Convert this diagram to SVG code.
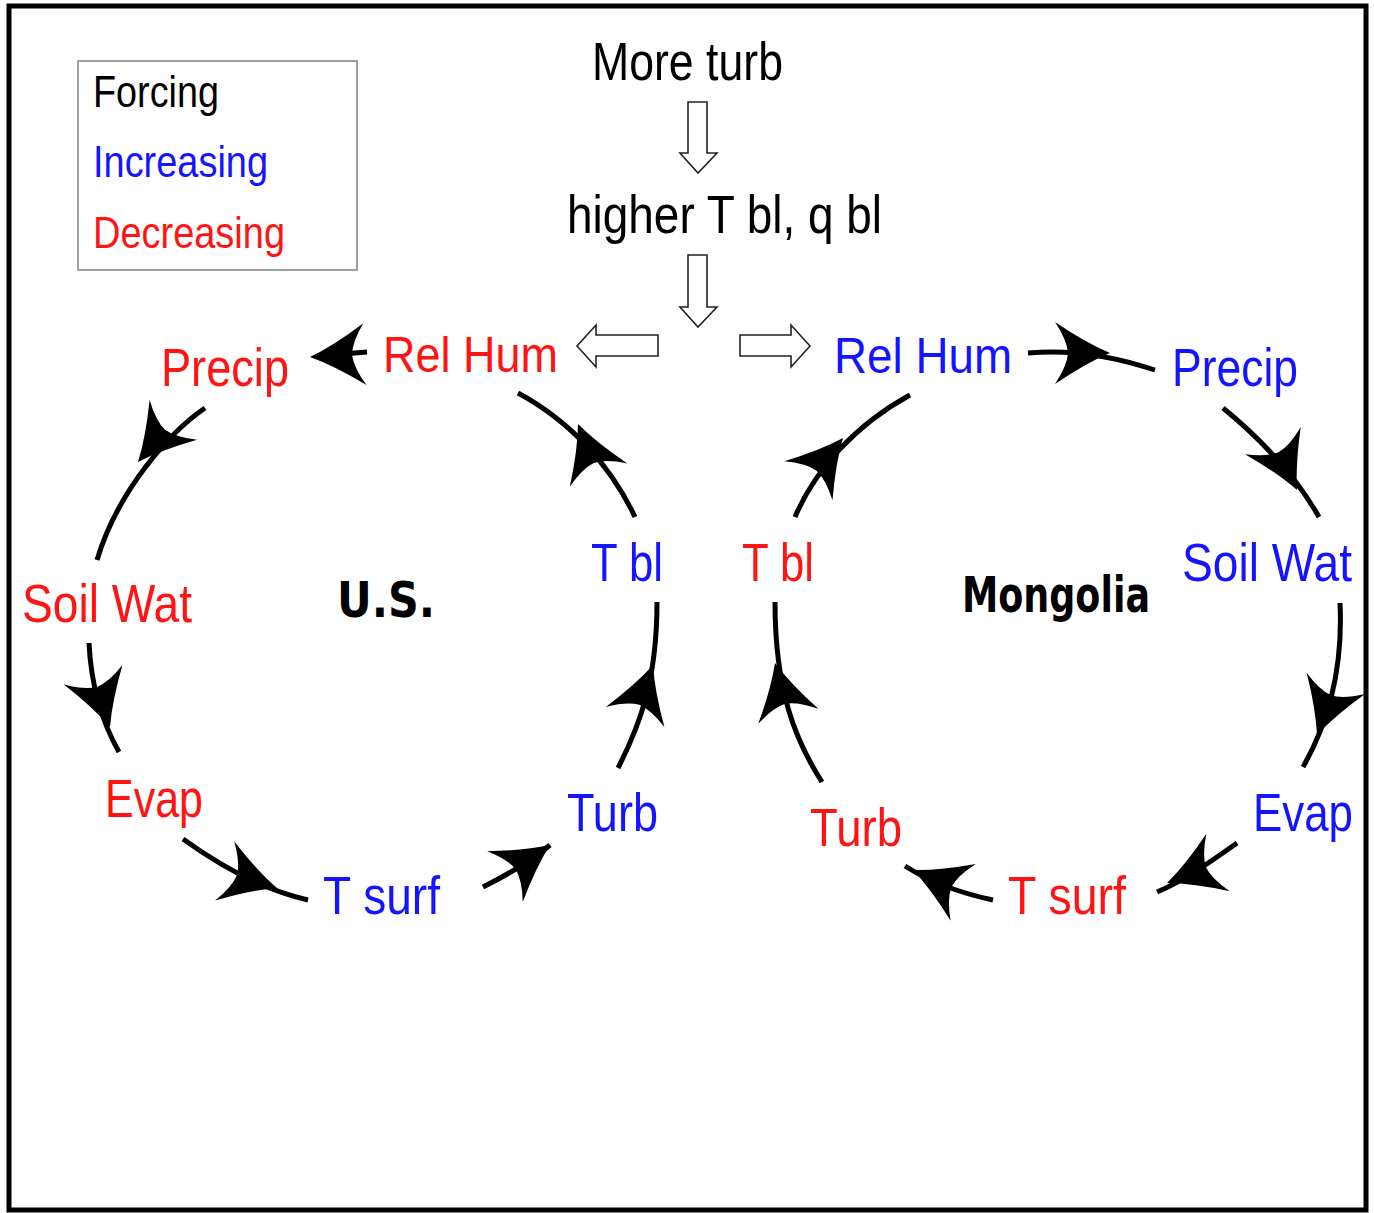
<svg xmlns="http://www.w3.org/2000/svg" xmlns:xlink="http://www.w3.org/1999/xlink" width="1374" height="1213" viewBox="0 0 1374 1213">
<style>
.t{font-family:"Liberation Sans",Arial,sans-serif;}
.b{fill:#1414ff;}
.r{fill:#ff1414;}
.k{fill:#000;}
.c{font-family:"DejaVu Sans",sans-serif;font-weight:bold;fill:#000;}
.ln{fill:none;stroke:#000;stroke-width:5;}
.hol{fill:#fff;stroke:#222;stroke-width:1.6;}
</style>
<defs>
<path id="ah" d="M0,0 Q-24,-10 -55,-31 Q-43,-13 -42,0 Q-43,13 -55,31 Q-24,10 0,0 Z" fill="#000"/>
</defs>
<rect x="0" y="0" width="1374" height="1213" fill="#fff"/>
<rect x="9" y="6" width="1357" height="1204" fill="none" stroke="#000" stroke-width="5"/>

<g id="legend">
<rect x="78" y="61" width="279" height="209" fill="none" stroke="#888" stroke-width="1.6"/>
<text class="t k" x="93" y="107" font-size="44" textLength="126" lengthAdjust="spacingAndGlyphs">Forcing</text>
<text class="t b" x="93" y="177" font-size="44" textLength="175" lengthAdjust="spacingAndGlyphs">Increasing</text>
<text class="t r" x="93" y="248" font-size="44" textLength="192" lengthAdjust="spacingAndGlyphs">Decreasing</text>
</g>

<g id="forcing">
<text class="t k" x="592" y="80" font-size="53" textLength="191" lengthAdjust="spacingAndGlyphs">More turb</text>
<polygon class="hol" points="688,102 707,102 707,153 717,153 698,173 680,153 688,153"/>
<text class="t k" x="567" y="233" font-size="53" textLength="315" lengthAdjust="spacingAndGlyphs">higher T bl, q bl</text>
<polygon class="hol" points="688,255 707,255 707,307 717,307 698,327 680,307 688,307"/>
<polygon class="hol" points="658,335 596,335 596,325 577,346 596,367 596,356 658,356"/>
<polygon class="hol" points="740,335 791,335 791,325 810,346 791,367 791,356 740,356"/>
</g>

<g id="us-loop">
<text class="c" x="337" y="617" font-size="50" textLength="98" lengthAdjust="spacingAndGlyphs">U.S.</text>
<g id="us-relhum"><text class="t r" x="383" y="372" font-size="50" textLength="175" lengthAdjust="spacingAndGlyphs">Rel Hum</text></g>
<g id="us-precip"><text class="t r" x="161" y="386" font-size="53" textLength="128" lengthAdjust="spacingAndGlyphs">Precip</text></g>
<g id="us-soilwat"><text class="t r" x="22" y="622" font-size="53" textLength="170" lengthAdjust="spacingAndGlyphs">Soil Wat</text></g>
<g id="us-evap"><text class="t r" x="105" y="817" font-size="53" textLength="98" lengthAdjust="spacingAndGlyphs">Evap</text></g>
<g id="us-tsurf"><text class="t b" x="323" y="914" font-size="53" textLength="117" lengthAdjust="spacingAndGlyphs">T surf</text></g>
<g id="us-turb"><text class="t b" x="567" y="831" font-size="53" textLength="91" lengthAdjust="spacingAndGlyphs">Turb</text></g>
<g id="us-tbl"><text class="t b" x="591" y="581" font-size="53" textLength="72" lengthAdjust="spacingAndGlyphs">T bl</text></g>
</g>

<g id="mongolia-loop">
<text class="c" x="962" y="612" font-size="50" textLength="188" lengthAdjust="spacingAndGlyphs">Mongolia</text>
<g id="mn-relhum"><text class="t b" x="834" y="373" font-size="50" textLength="178" lengthAdjust="spacingAndGlyphs">Rel Hum</text></g>
<g id="mn-precip"><text class="t b" x="1172" y="386" font-size="53" textLength="126" lengthAdjust="spacingAndGlyphs">Precip</text></g>
<g id="mn-soilwat"><text class="t b" x="1182" y="581" font-size="53" textLength="170" lengthAdjust="spacingAndGlyphs">Soil Wat</text></g>
<g id="mn-evap"><text class="t b" x="1253" y="831" font-size="53" textLength="100" lengthAdjust="spacingAndGlyphs">Evap</text></g>
<g id="mn-tsurf"><text class="t r" x="1008" y="914" font-size="53" textLength="118" lengthAdjust="spacingAndGlyphs">T surf</text></g>
<g id="mn-turb"><text class="t r" x="810" y="846" font-size="53" textLength="92" lengthAdjust="spacingAndGlyphs">Turb</text></g>
<g id="mn-tbl"><text class="t r" x="742" y="581" font-size="53" textLength="72" lengthAdjust="spacingAndGlyphs">T bl</text></g>
</g>

<g id="connectors">
<path class="ln" d="M367,352 L318,356"/>
<use xlink:href="#ah" transform="translate(310,357) rotate(177)"/>
<path class="ln" d="M205,408 C170,432 118,490 97,560"/>
<use xlink:href="#ah" transform="translate(138,462) rotate(130)"/>
<path class="ln" d="M89,643 C91,685 102,722 119,752"/>
<use xlink:href="#ah" transform="translate(110,727) rotate(72)"/>
<path class="ln" d="M183,839 C215,862 262,890 308,900"/>
<use xlink:href="#ah" transform="translate(277,888) rotate(18)"/>
<path class="ln" d="M483,887 C505,876 530,862 550,845"/>
<use xlink:href="#ah" transform="translate(550,845) rotate(-35)"/>
<path class="ln" d="M618,768 C640,725 657,680 657,602"/>
<use xlink:href="#ah" transform="translate(653,665) rotate(-71)"/>
<path class="ln" d="M635,517 C612,468 572,422 518,393"/>
<use xlink:href="#ah" transform="translate(578,424) rotate(-112)"/>
<path class="ln" d="M795,517 C815,470 855,425 910,395"/>
<use xlink:href="#ah" transform="translate(843,438) rotate(-51)"/>
<path class="ln" d="M822,782 C795,740 775,690 775,602"/>
<use xlink:href="#ah" transform="translate(775,663) rotate(-104)"/>
<path class="ln" d="M1028,353 C1070,349 1110,355 1155,370"/>
<use xlink:href="#ah" transform="translate(1110,353) rotate(0)"/>
<path class="ln" d="M1223,408 C1262,440 1297,478 1319,517"/>
<use xlink:href="#ah" transform="translate(1297,490) rotate(64)"/>
<path class="ln" d="M1340,603 C1343,665 1330,720 1303,767"/>
<use xlink:href="#ah" transform="translate(1317,735) rotate(110)"/>
<path class="ln" d="M1237,843 C1210,862 1185,880 1157,892"/>
<use xlink:href="#ah" transform="translate(1167,883) rotate(158)"/>
<path class="ln" d="M993,900 C960,893 930,882 905,866"/>
<use xlink:href="#ah" transform="translate(913,870) rotate(-156)"/>
</g>
</svg>
